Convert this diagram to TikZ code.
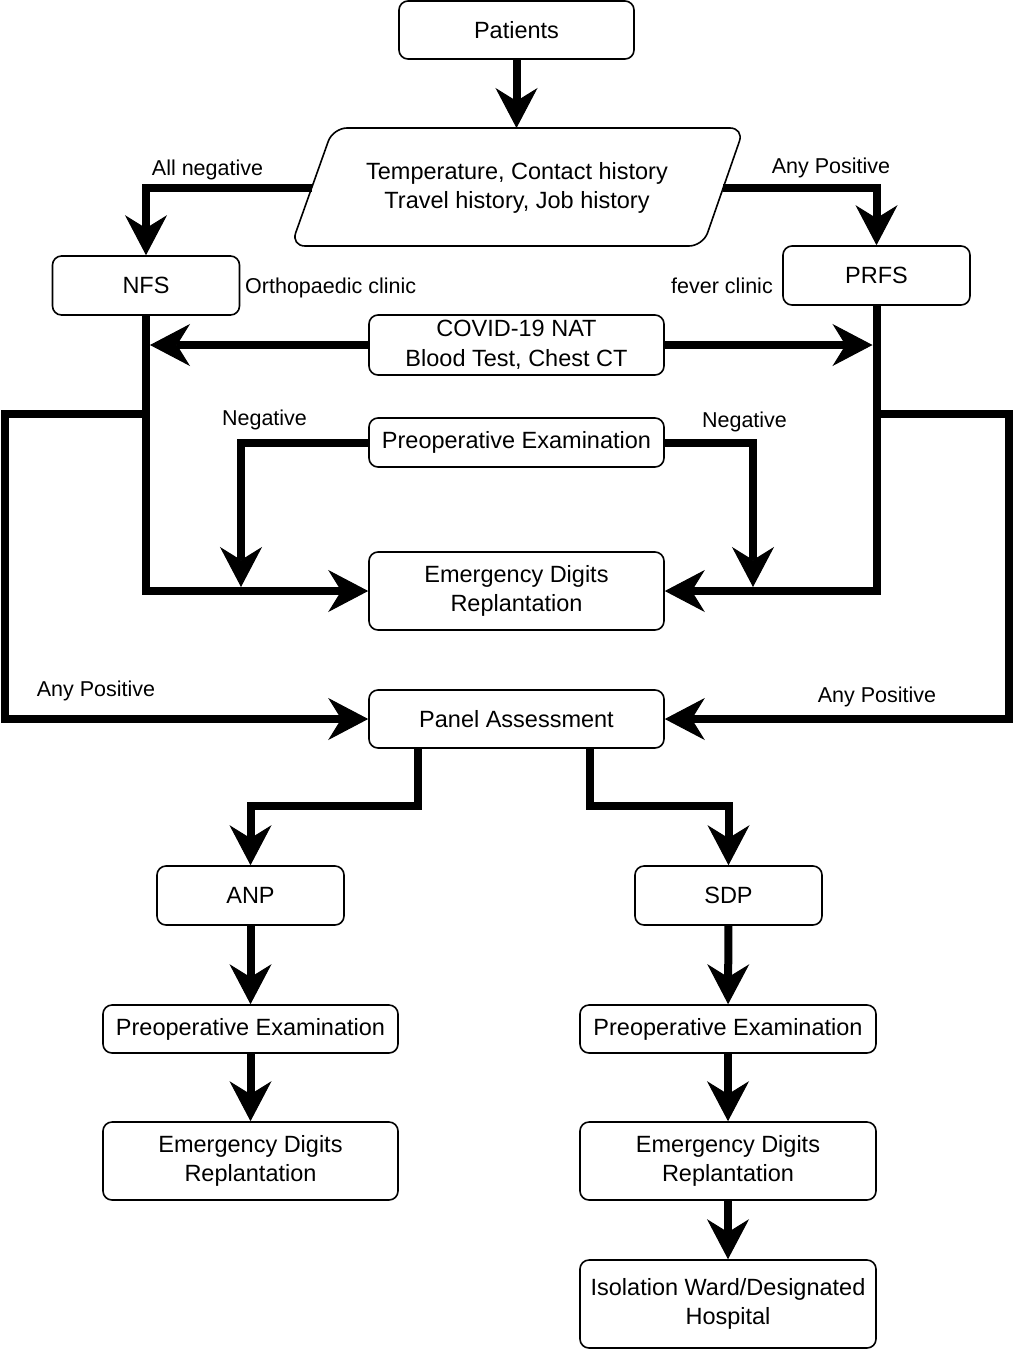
\documentclass[tikz,border=0pt]{standalone}
\usepackage{fontspec}
\setmainfont{Liberation Sans}
\usetikzlibrary{arrows.meta}

\begin{document}
\begin{tikzpicture}[x=1pt, y=-1pt,
	box/.style={draw, line width=1.6pt, rounded corners=9pt, align=center, inner sep=0pt, font=\fontsize{23.5}{29.5}\selectfont},
	txt/.style={align=center, inner sep=0pt, font=\fontsize{23.5}{29.5}\selectfont},
	lbl/.style={font=\fontsize{21.5}{26}\selectfont, inner sep=0pt},
	flow/.style={line width=8pt, -{Stealth[length=40pt, width=42pt, inset=13pt, line width=1pt]}}]

\useasboundingbox (0,0) rectangle (1014,1350);

% top part
\node[box, minimum width=235pt, minimum height=58pt] (pat) at (516.5,30) {Patients};

\draw[line width=1.6pt, rounded corners=14pt] (333,128) -- (744,128) -- (703,246) -- (291,246) -- cycle;
\node[txt] (check) at (517,188) {Temperature, Contact history\\Travel history, Job history};
\coordinate (chkT) at (516.5,128);
\coordinate (chkL) at (312,188);
\coordinate (chkR) at (723,188);

\node[box, minimum width=187pt, minimum height=59pt] (nfs) at (146,285.5) {NFS};
\node[box, minimum width=187pt, minimum height=59pt] (prfs) at (876.5,275.5) {PRFS};

\node[lbl] (allneg) at (207.5,170) {All negative};
\node[lbl] (anypos) at (831,168) {Any Positive};
\node[lbl, anchor=west] (ortho) at (245,288) {Orthopaedic clinic};
\node[lbl, anchor=east] (fever) at (773,286) {fever clinic};

\draw[flow] (pat) -- (chkT);
\draw[flow] (chkL) -| (nfs.north);
\draw[flow] (chkR) -| (prfs.north);

% middle part
\node[box, minimum width=295pt, minimum height=60pt] (covid) at (516.5,345) {COVID-19 NAT\\Blood Test, Chest CT};
\node[box, minimum width=295pt, minimum height=49pt] (preop) at (516.5,442.5) {Preoperative Examination};
\node[box, minimum width=295pt, minimum height=78pt] (edr) at (516.5,591) {Emergency Digits\\Replantation};
\node[box, minimum width=295pt, minimum height=58pt] (panel) at (516.5,719) {Panel Assessment};

\node[lbl] (negl) at (264.5,420) {Negative};
\node[lbl] (negr) at (744.5,422) {Negative};
\node[lbl] (posl) at (96,691) {Any Positive};
\node[lbl] (posr) at (877,697) {Any Positive};

\coordinate (lft) at (5,0);
\coordinate (rgt) at (1009,0);
\coordinate (negL) at (241,587);
\coordinate (negR) at (753,587);
\path (nfs.south) ++(0,98) coordinate (nfsbr);
\path (prfs.south) ++(0,108) coordinate (prfsbr);

\draw[flow] (covid.west) -- ([xshift=4pt]nfs.south |- covid.west);
\draw[flow] (covid.east) -- ([xshift=-4pt]prfs.south |- covid.east);
\draw[flow] (nfs.south) |- (edr.west);
\draw[flow] (prfs.south) |- (edr.east);
\draw[flow] (preop.west) -| (negL);
\draw[flow] (preop.east) -| (negR);
\draw[flow] (nfsbr) -- (nfsbr -| lft) |- (panel.west);
\draw[flow] (prfsbr) -- (prfsbr -| rgt) |- (panel.east);

% bottom part
\node[box, minimum width=187pt, minimum height=59pt] (anp) at (250.5,895.5) {ANP};
\node[box, minimum width=187pt, minimum height=59pt] (sdp) at (728.5,895.5) {SDP};
\node[box, minimum width=295pt, minimum height=48pt] (preA) at (250.5,1029) {Preoperative Examination};
\node[box, minimum width=296pt, minimum height=48pt] (preS) at (728,1029) {Preoperative Examination};
\node[box, minimum width=295pt, minimum height=78pt] (edrA) at (250.5,1161) {Emergency Digits\\Replantation};
\node[box, minimum width=296pt, minimum height=78pt] (edrS) at (728,1161) {Emergency Digits\\Replantation};
\node[box, minimum width=296pt, minimum height=88pt] (iso) at (728,1304) {Isolation Ward/Designated\\Hospital};

\coordinate (pl) at (418,806);
\coordinate (pr) at (590,806);

\draw[flow] (panel.south -| pl) -- (pl) -| (anp.north);
\draw[flow] (panel.south -| pr) -- (pr) -| (sdp.north);
\draw[flow] (anp) -- (preA);
\draw[flow] (preA) -- (edrA);
\draw[flow] (sdp) -- (preS);
\draw[flow] (preS) -- (edrS);
\draw[flow] (edrS) -- (iso);

\end{tikzpicture}
\end{document}
